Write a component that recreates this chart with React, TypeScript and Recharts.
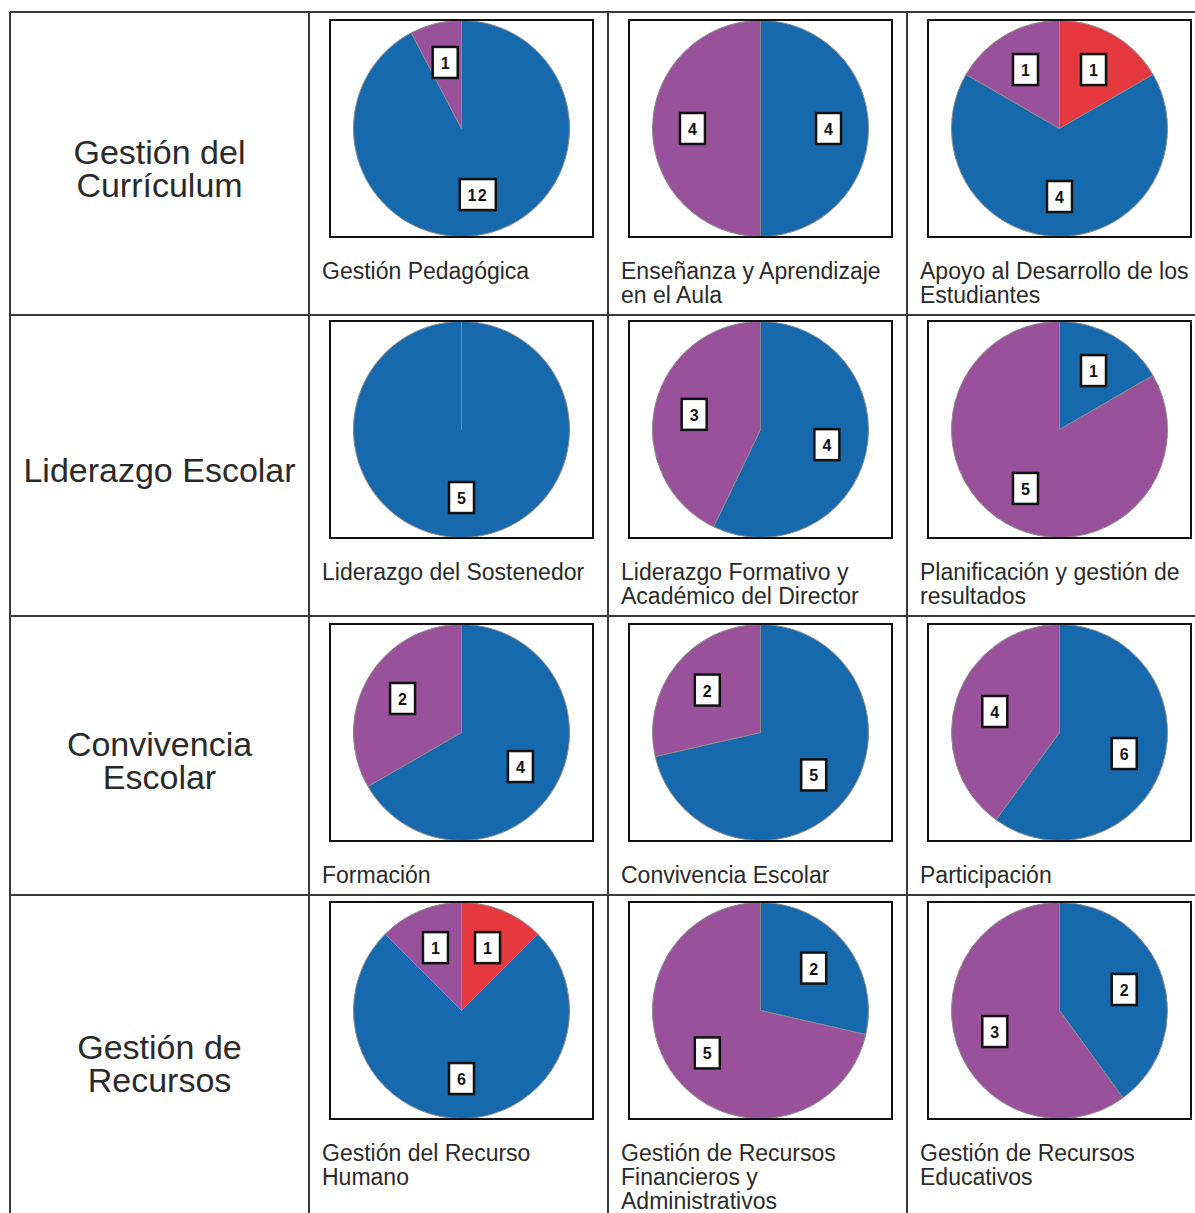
import React from "react";
import { PieChart, Pie, Cell } from "recharts";

// ---- data ----
const dimensiones = [
  "Gestión del\nCurrículum",
  "Liderazgo Escolar",
  "Convivencia\nEscolar",
  "Gestión de\nRecursos",
];

const subdimensiones = [
  "Gestión Pedagógica",
  "Enseñanza y Aprendizaje\nen el Aula",
  "Apoyo al Desarrollo de los\nEstudiantes",
  "Liderazgo del Sostenedor",
  "Liderazgo Formativo y\nAcadémico del Director",
  "Planificación y gestión de\nresultados",
  "Formación",
  "Convivencia Escolar",
  "Participación",
  "Gestión del Recurso\nHumano",
  "Gestión de Recursos\nFinancieros y\nAdministrativos",
  "Gestión de Recursos\nEducativos",
];

const serieRoja = [0, 0, 1, 0, 0, 0, 0, 0, 0, 1, 0, 0];
const serieAzul = [12, 4, 4, 5, 4, 1, 4, 5, 6, 6, 2, 2];
const serieMorada = [1, 4, 1, 0, 3, 5, 2, 2, 4, 1, 5, 3];

const colores = { roja: "#e5383f", azul: "#1769ad", morada: "#9a519b" };

// ---- layout ----
const colLines = [10, 309, 608, 907, 1206];
const rowLines = [12, 315, 616, 895, 1222];
const boxTops = [19, 320, 623, 901];
const BOX_W = 265;
const BOX_H = 219;
const LINE = "#3a3a3a";
const RAD = Math.PI / 180;

const renderLabel = (props: any) => {
  const { cx, cy, midAngle, outerRadius, value } = props;
  const r = outerRadius * 0.63;
  const x = cx + r * Math.cos(-midAngle * RAD);
  const y = cy + r * Math.sin(-midAngle * RAD);
  const w = String(value).length > 1 ? 36 : 25;
  const h = 31;
  return (
    <g>
      <rect x={x - w / 2} y={y - h / 2} width={w} height={h} fill="#ffffff" stroke="#111111" strokeWidth={2.5} />
      <text
        x={x}
        y={y + 1}
        textAnchor="middle"
        dominantBaseline="central"
        fontSize={16}
        fontWeight="bold"
        fontFamily="'Liberation Sans', Arial, sans-serif"
        fill="#111111"
        letterSpacing={String(value).length > 1 ? 1.5 : 0}
      >
        {value}
      </text>
    </g>
  );
};

function MiniPie({ idx }: { idx: number }) {
  const data = [
    { name: "roja", value: serieRoja[idx] },
    { name: "azul", value: serieAzul[idx] },
    { name: "morada", value: serieMorada[idx] },
  ].filter((d) => d.value > 0);
  return (
    <PieChart width={BOX_W - 4} height={BOX_H - 4} margin={{ top: 0, right: 0, bottom: 0, left: 0 }}>
      <Pie
        data={data}
        dataKey="value"
        nameKey="name"
        cx="50%"
        cy="50%"
        outerRadius={108}
        startAngle={90}
        endAngle={-270}
        label={renderLabel}
        labelLine={false}
        isAnimationActive={false}
      >
        {data.map((d) => (
          <Cell key={d.name} fill={(colores as any)[d.name]} stroke="#8a8a8a" strokeWidth={1} />
        ))}
      </Pie>
    </PieChart>
  );
}

export default function App() {
  const hLines = rowLines.map((y, i) => (
    <div
      key={"h" + i}
      style={{ position: "absolute", left: colLines[0], top: y - 1, width: colLines[4] - colLines[0], height: 2, background: LINE }}
    />
  ));
  const vLines = colLines.map((x, i) => (
    <div
      key={"v" + i}
      style={{ position: "absolute", left: x - 1, top: rowLines[0], width: 2, height: rowLines[4] - rowLines[0], background: LINE }}
    />
  ));

  const rowLabels = dimensiones.map((d, r) => (
    <div
      key={"r" + r}
      style={{
        position: "absolute",
        left: colLines[0],
        top: rowLines[r],
        width: colLines[1] - colLines[0],
        height: rowLines[r + 1] - rowLines[r],
        paddingTop: 10,
        boxSizing: "border-box",
        display: "flex",
        alignItems: "center",
        justifyContent: "center",
        textAlign: "center",
        whiteSpace: "pre",
        fontFamily: "'Liberation Sans', Arial, sans-serif",
        fontSize: 34,
        lineHeight: "33px",
        color: "#2a2a2a",
      }}
    >
      {d}
    </div>
  ));

  const cells: React.ReactNode[] = [];
  subdimensiones.forEach((s, i) => {
    const r = Math.floor(i / 3);
    const c = (i % 3) + 1;
    const left = colLines[c] + 20;
    const top = boxTops[r];
    cells.push(
      <div
        key={"b" + i}
        style={{
          position: "absolute",
          left,
          top,
          width: BOX_W,
          height: BOX_H,
          border: "2px solid #111111",
          boxSizing: "border-box",
          background: "#ffffff",
        }}
      >
        <MiniPie idx={i} />
      </div>
    );
    cells.push(
      <div
        key={"t" + i}
        style={{
          position: "absolute",
          left: colLines[c] + 13,
          top: top + BOX_H + 21,
          whiteSpace: "pre",
          fontFamily: "'Liberation Sans', Arial, sans-serif",
          fontSize: 23,
          lineHeight: "24px",
          color: "#2a2a2a",
        }}
      >
        {s}
      </div>
    );
  });

  return (
    <div
      style={{
        position: "absolute",
        left: 0,
        top: 0,
        width: 1195,
        height: 1213,
        overflow: "hidden",
        background: "#ffffff",
      }}
    >
      {hLines}
      {vLines}
      {rowLabels}
      {cells}
    </div>
  );
}
